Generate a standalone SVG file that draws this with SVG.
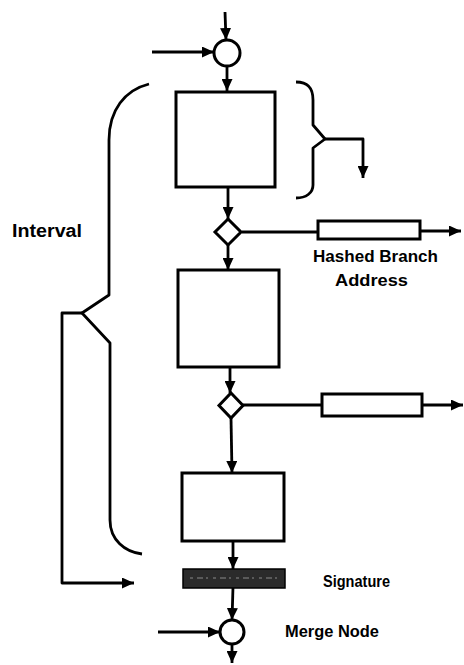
<svg xmlns="http://www.w3.org/2000/svg" width="464" height="665" viewBox="0 0 464 665">
<style>
.n{fill:#fff;stroke:#000;stroke-width:3}
.c{fill:none;stroke:#000;stroke-width:2.8;stroke-linejoin:round}
.a{marker-end:url(#ah)}
.t{font-family:"Liberation Sans",Arial,sans-serif;font-weight:bold;fill:#000}
</style>
<defs>
<marker id="ah" markerUnits="userSpaceOnUse" markerWidth="12" markerHeight="11" refX="12" refY="5.5" orient="auto">
<path d="M0,0 L12,5.5 L0,11 z" fill="#000"/>
</marker>
</defs>
<rect width="464" height="665" fill="#fff"/>
<g id="connectors">
<path class="c a" d="M225,12 L226,40"/>
<path class="c a" d="M152,52 L214,52"/>
<path class="c a" d="M227,66 L227,91"/>
<path class="c a" d="M228,187 L228,219"/>
<path class="c a" d="M228,245 L228,270"/>
<path class="c" d="M242,232 L318,232"/>
<path class="c a" d="M420,231 L461,231"/>
<path class="c a" d="M230,367 L230,393"/>
<path class="c a" d="M231,418 L232,473"/>
<path class="c" d="M243,405 L322,405"/>
<path class="c a" d="M422,405 L463,405"/>
<path class="c a" d="M233,541 L233,569"/>
<path class="c a" d="M233,587 L232,620"/>
<path class="c a" d="M158,632 L220,632"/>
<path class="c a" d="M232,644 L232,663"/>
<path class="c a" d="M82,313 L62,313 L62,583 L134,583"/>
<path class="c a" d="M325,139 L363,139 L363,178"/>
</g>
<g id="interval-brace">
<path class="c" stroke-width="3" d="M149,84 C125,90 109,110 109,140 L109,295 L82,313 L110,343 L110,520 C110,540 125,552 142,554"/>
</g>
<g id="block-brace">
<path class="c" stroke-width="3" d="M296,82 C308,82 313,88 313,100 L313,125 L325,139 L313,148 L313,185 C313,193 306,198 296,198"/>
</g>
<g id="entry-node"><circle class="n" cx="227" cy="53" r="13"/></g>
<g id="block1"><rect class="n" x="176" y="92" width="99" height="95"/></g>
<g id="branch1"><path class="n" d="M228,219 L241,232 L228,245 L215,232 z"/></g>
<g id="hash1"><rect class="n" x="318" y="221" width="102" height="18" stroke-width="2.6"/></g>
<g id="block2"><rect class="n" x="178" y="270" width="101" height="97"/></g>
<g id="branch2"><path class="n" d="M231,393 L243,405.5 L231,418 L219,405.5 z"/></g>
<g id="hash2"><rect class="n" x="322" y="394" width="100" height="22" stroke-width="2.6"/></g>
<g id="block3"><rect class="n" x="182" y="473" width="102" height="68"/></g>
<g id="signature">
<rect x="183" y="569" width="102" height="19" fill="#2b2b2b" stroke="#000" stroke-width="1.5"/>
<path d="M190,578 L278,578" stroke="#8a8a8a" stroke-width="1.2" stroke-dasharray="3 4 6 3 2 5"/>
</g>
<g id="merge-node"><circle class="n" cx="232" cy="632" r="12"/></g>
<g id="labels">
<text class="t" x="12" y="237" font-size="18" textLength="70" lengthAdjust="spacingAndGlyphs">Interval</text>
<text class="t" x="313" y="262" font-size="17" textLength="125" lengthAdjust="spacingAndGlyphs">Hashed Branch</text>
<text class="t" x="335" y="286" font-size="17" textLength="73" lengthAdjust="spacingAndGlyphs">Address</text>
<text class="t" x="323" y="587" font-size="17" textLength="67" lengthAdjust="spacingAndGlyphs">Signature</text>
<text class="t" x="285" y="637" font-size="17" textLength="94" lengthAdjust="spacingAndGlyphs">Merge Node</text>
</g>
</svg>
